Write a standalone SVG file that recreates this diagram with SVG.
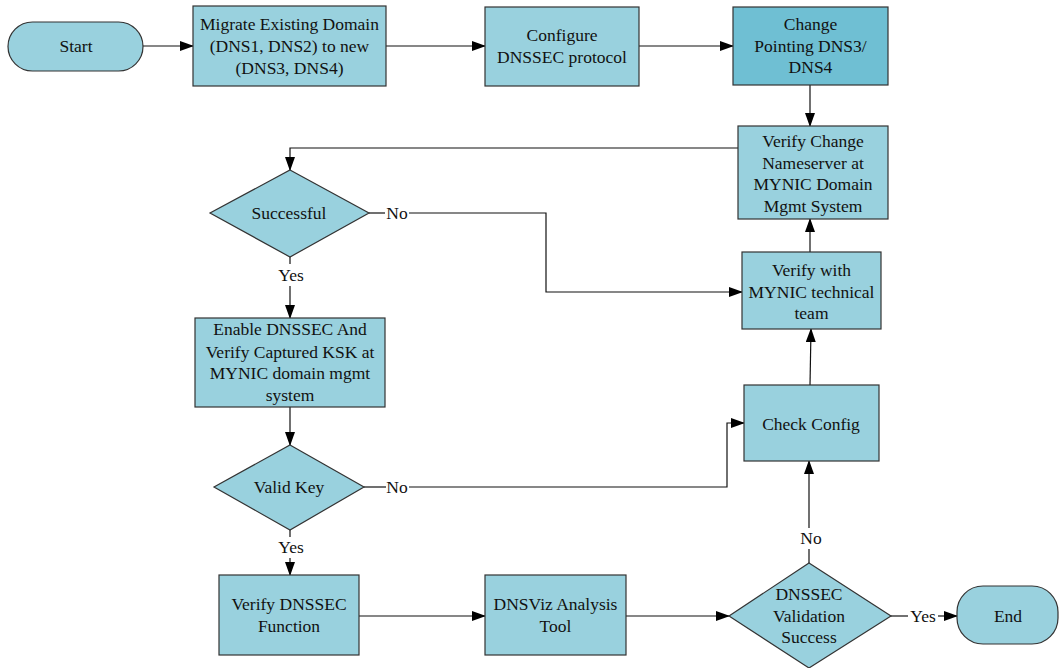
<svg xmlns="http://www.w3.org/2000/svg" width="1059" height="668" viewBox="0 0 1059 668">
<style>
.n{fill:#99d1de;stroke:#333;stroke-width:1.2}
.d{fill:#6fbfd3;stroke:#333;stroke-width:1.2}
.t{font-family:"Liberation Serif","Times New Roman",serif;font-size:17.5px;fill:#111;text-anchor:middle}
.c{fill:none;stroke:#111;stroke-width:1.2}
</style>
<defs>
<marker id="a" markerWidth="14" markerHeight="10" refX="13" refY="5" orient="auto" markerUnits="userSpaceOnUse">
<path d="M0,0 L14,5 L0,10 Z" fill="#000"/>
</marker>
</defs>
<rect width="1059" height="668" fill="#fff"/>
<g id="connectors">
<path class="c" d="M143,46 H193" marker-end="url(#a)"/>
<path class="c" d="M386,46 H485" marker-end="url(#a)"/>
<path class="c" d="M639,46 H733" marker-end="url(#a)"/>
<path class="c" d="M810,85 V126" marker-end="url(#a)"/>
<path class="c" d="M738,148 H290 V170" marker-end="url(#a)"/>
<path class="c" d="M369,213 H385"/>
<path class="c" d="M409,213 H546 V292 H742" marker-end="url(#a)"/>
<text class="t" x="397" y="219">No</text>
<path class="c" d="M810,252 V219" marker-end="url(#a)"/>
<path class="c" d="M290,257 V264"/>
<text class="t" x="291" y="281">Yes</text>
<path class="c" d="M290,286 V318" marker-end="url(#a)"/>
<path class="c" d="M290,407 V445" marker-end="url(#a)"/>
<path class="c" d="M364,487 H386"/>
<text class="t" x="397" y="493">No</text>
<path class="c" d="M409,487 H727 V423 H744" marker-end="url(#a)"/>
<path class="c" d="M810,385 L811,329" marker-end="url(#a)"/>
<path class="c" d="M290,530 V537"/>
<text class="t" x="291" y="553">Yes</text>
<path class="c" d="M290,558 V575" marker-end="url(#a)"/>
<path class="c" d="M359,616 H485" marker-end="url(#a)"/>
<path class="c" d="M626,616 H729" marker-end="url(#a)"/>
<path class="c" d="M809,563 V549"/>
<text class="t" x="811" y="544">No</text>
<path class="c" d="M809,528 V461" marker-end="url(#a)"/>
<path class="c" d="M891,616 H908"/>
<text class="t" x="923" y="622">Yes</text>
<path class="c" d="M938,616 H957" marker-end="url(#a)"/>
</g>
<g id="start">
<rect class="n" x="8" y="22" width="135" height="49" rx="24.5"/>
<text class="t" x="76" y="52">Start</text>
</g>
<g id="migrate">
<rect class="n" x="193" y="6" width="193" height="80"/>
<text class="t" x="289.5" y="30">Migrate Existing Domain</text>
<text class="t" x="289.5" y="52">(DNS1, DNS2) to new</text>
<text class="t" x="289.5" y="74">(DNS3, DNS4)</text>
</g>
<g id="configure">
<rect class="n" x="485" y="7" width="154" height="79"/>
<text class="t" x="562" y="41">Configure</text>
<text class="t" x="562" y="63">DNSSEC protocol</text>
</g>
<g id="change">
<rect class="d" x="733" y="7" width="155" height="78"/>
<text class="t" x="810.5" y="30">Change</text>
<text class="t" x="810.5" y="52">Pointing DNS3/</text>
<text class="t" x="810.5" y="73">DNS4</text>
</g>
<g id="verify-change">
<rect class="n" x="738" y="126" width="150" height="93"/>
<text class="t" x="813" y="147">Verify Change</text>
<text class="t" x="813" y="169">Nameserver at</text>
<text class="t" x="813" y="190">MYNIC Domain</text>
<text class="t" x="813" y="212">Mgmt System</text>
</g>
<g id="successful">
<polygon class="n" points="290,170 369,213 290,257 210,213"/>
<text class="t" x="289" y="219">Successful</text>
</g>
<g id="verify-with">
<rect class="n" x="742" y="252" width="139" height="77"/>
<text class="t" x="811.5" y="276">Verify with</text>
<text class="t" x="811.5" y="298">MYNIC technical</text>
<text class="t" x="811.5" y="319">team</text>
</g>
<g id="enable">
<rect class="n" x="195" y="318" width="190" height="89"/>
<text class="t" x="290" y="335">Enable DNSSEC And</text>
<text class="t" x="290" y="358">Verify Captured KSK at</text>
<text class="t" x="290" y="379">MYNIC domain mgmt</text>
<text class="t" x="290" y="401">system</text>
</g>
<g id="check-config">
<rect class="n" x="744" y="385" width="135" height="76"/>
<text class="t" x="811" y="430">Check Config</text>
</g>
<g id="valid-key">
<polygon class="n" points="290,445 364,487 290,530 214,487"/>
<text class="t" x="289" y="493">Valid Key</text>
</g>
<g id="verify-dnssec">
<rect class="n" x="219" y="575" width="140" height="80"/>
<text class="t" x="289" y="610">Verify DNSSEC</text>
<text class="t" x="289" y="632">Function</text>
</g>
<g id="dnsviz">
<rect class="n" x="485" y="575" width="141" height="80"/>
<text class="t" x="555.5" y="610">DNSViz Analysis</text>
<text class="t" x="555.5" y="632">Tool</text>
</g>
<g id="dnssec-validation">
<polygon class="n" points="809,563 891,616 809,668 729,616"/>
<text class="t" x="809" y="600">DNSSEC</text>
<text class="t" x="809" y="622">Validation</text>
<text class="t" x="809" y="643">Success</text>
</g>
<g id="end">
<rect class="n" x="957" y="586" width="101" height="58" rx="26"/>
<text class="t" x="1008" y="622">End</text>
</g>
</svg>
